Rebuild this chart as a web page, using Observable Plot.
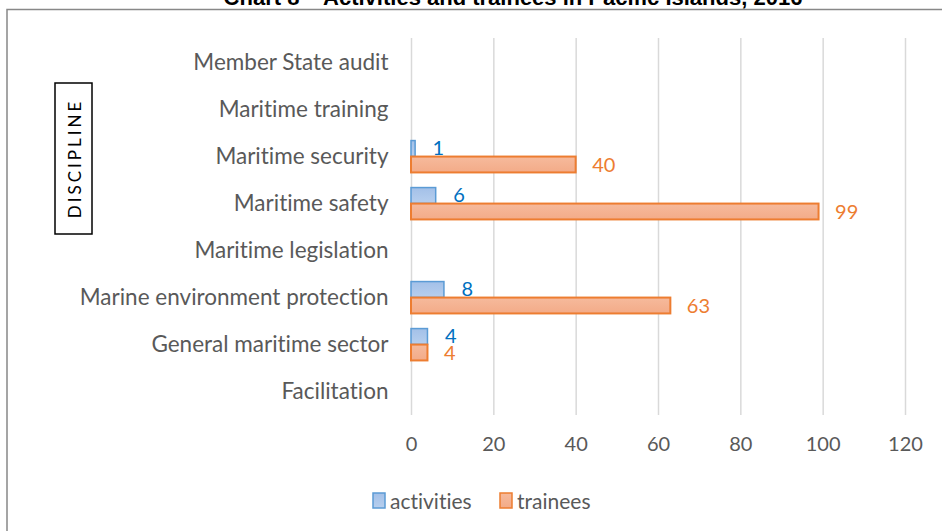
<!DOCTYPE html>
<html>
<head>
<meta charset="utf-8">
<script src="https://cdn.jsdelivr.net/npm/d3@7"></script>
<script src="https://cdn.jsdelivr.net/npm/@observablehq/plot@0.6"></script>
<style>
  html, body { margin: 0; padding: 0; background: white; }
  #chart { width: 942px; height: 531px; overflow: hidden; }
  #chart text { font-variant-ligatures: none; }
</style>
</head>
<body>
<div id="chart"></div>
<script>
const title = "Chart 8 – Activities and trainees in Pacific Islands, 2016";
const axisTitle = "DISCIPLINE";
const categories = [
  "Member State audit",
  "Maritime training",
  "Maritime security",
  "Maritime safety",
  "Maritime legislation",
  "Marine environment protection",
  "General maritime sector",
  "Facilitation"
];
const activities = [null, null, 1, 6, null, 8, 4, null];
const trainees = [null, null, 40, 99, null, 63, 4, null];
const xTicks = [0, 20, 40, 60, 80, 100, 120];
const seriesNames = ["activities", "trainees"];

const actRows = categories.map((c, i) => ({category: c, value: activities[i]})).filter(d => d.value != null);
const trnRows = categories.map((c, i) => ({category: c, value: trainees[i]})).filter(d => d.value != null);

const band = (531 - 116 - 38) / categories.length;
const half = band / 2;
const outer = half - 16;

const chart = Plot.plot({
  width: 942,
  height: 531,
  marginLeft: 411,
  marginRight: 37,
  marginTop: 38,
  marginBottom: 116,
  style: {fontFamily: "Lato, 'Open Sans', sans-serif", fontSize: "20px", color: "#595959", background: "white"},
  x: {domain: [0, 120]},
  y: {domain: categories, padding: 0},
  marks: [
    Plot.gridX(xTicks, {stroke: "#d9d9d9", strokeOpacity: 1, strokeWidth: 1.5}),
    Plot.axisX({ticks: xTicks, tickSize: 0, tickPadding: 21, label: null, fontSize: 20}),
    Plot.axisY({tickSize: 0, tickPadding: 23, label: null, fontSize: 22.5}),
    Plot.barX(actRows, {x: "value", y: "category", insetTop: outer, insetBottom: half,
      fill: "url(#gradBlue)", stroke: "#5b9bd5", strokeWidth: 1.5}),
    Plot.barX(trnRows, {x: "value", y: "category", insetTop: half, insetBottom: outer,
      fill: "url(#gradOrange)", stroke: "#ed7d31", strokeWidth: 2}),
    Plot.text(actRows, {x: "value", y: "category", text: d => String(d.value), dy: -8.5, dx: 17,
      textAnchor: "start", fill: "#0070c0", fontSize: 20}),
    Plot.text(trnRows, {x: "value", y: "category", text: d => String(d.value), dy: 8.5, dx: 16,
      textAnchor: "start", fill: "#ed7d31", fontSize: 20})
  ]
});

document.getElementById("chart").appendChild(chart);

const svg = d3.select(chart);
const defs = svg.insert("defs", ":first-child");
const gb = defs.append("linearGradient").attr("id", "gradBlue").attr("x1", 0).attr("y1", 0).attr("x2", 0).attr("y2", 1);
gb.append("stop").attr("offset", "0%").attr("stop-color", "#a3c0e8");
gb.append("stop").attr("offset", "100%").attr("stop-color", "#b7cfee");
const go = defs.append("linearGradient").attr("id", "gradOrange").attr("x1", 0).attr("y1", 0).attr("x2", 0).attr("y2", 1);
go.append("stop").attr("offset", "0%").attr("stop-color", "#f6ba9c");
go.append("stop").attr("offset", "100%").attr("stop-color", "#f3ab88");

// outer chart border
svg.append("rect").attr("x", 7).attr("y", 9.5).attr("width", 1000).attr("height", 1000)
  .attr("fill", "none").attr("stroke", "#888888").attr("stroke-width", 1.5);

// title (partly clipped at top as in reference)
svg.append("text").attr("x", 513).attr("y", 5).attr("text-anchor", "middle")
  .attr("font-family", "'Liberation Sans', Arial, sans-serif").attr("font-weight", "bold")
  .attr("font-size", 22).attr("fill", "#000").text(title);

// DISCIPLINE boxed axis title
svg.append("rect").attr("x", 55).attr("y", 83).attr("width", 37).attr("height", 151)
  .attr("fill", "white").attr("stroke", "#000").attr("stroke-width", 1.5);
svg.append("text").attr("transform", "translate(74,158.5) rotate(-90)")
  .attr("text-anchor", "middle").attr("dominant-baseline", "central")
  .attr("font-family", "Lato, sans-serif").attr("font-size", 17).attr("letter-spacing", 3)
  .attr("fill", "#000").text(axisTitle);

// legend
const lg = svg.append("g").attr("font-family", "Lato, sans-serif").attr("font-size", 21)
  .attr("fill", "#595959").attr("text-anchor", "start");
const legendItems = [
  {name: seriesNames[0], fill: "url(#gradBlue)", stroke: "#5b9bd5", x: 373},
  {name: seriesNames[1], fill: "url(#gradOrange)", stroke: "#ed7d31", x: 500}
];
legendItems.forEach(it => {
  lg.append("rect").attr("x", it.x).attr("y", 493).attr("width", 12).attr("height", 15)
    .attr("fill", it.fill).attr("stroke", it.stroke).attr("stroke-width", 1.5);
  lg.append("text").attr("x", it.x + 17).attr("y", 500).attr("dominant-baseline", "central")
    .attr("text-anchor", "start").text(it.name);
});
</script>
</body>
</html>
